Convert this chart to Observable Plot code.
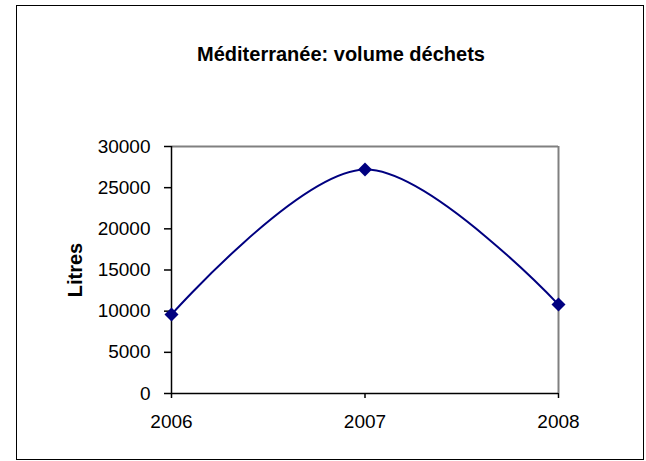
<!DOCTYPE html>
<html><head><meta charset="utf-8">
<script src="https://cdn.jsdelivr.net/npm/d3@7"></script>
<script src="https://cdn.jsdelivr.net/npm/@observablehq/plot@0.6"></script>
<style>
body{margin:0;background:#fff;}
#wrap{position:relative;width:646px;height:461px;}
#frame{position:absolute;left:16px;top:5px;width:628px;height:455px;border:1.5px solid #000;box-sizing:border-box;pointer-events:none;}
</style></head><body>
<div id="wrap"><div id="frame"></div></div>
<script>
const years = [2006, 2007, 2008];
const litres = [9600, 27200, 10800];
const yTicks = [0, 5000, 10000, 15000, 20000, 25000, 30000];
const title = "Méditerranée: volume déchets";
const yLabel = "Litres";

const data = years.map((y, i) => ({year: y, value: litres[i]}));
const font = "'Liberation Sans', Arial, Helvetica, sans-serif";

const chart = Plot.plot({
  width: 646, height: 461,
  marginLeft: 171, marginRight: 88, marginTop: 146, marginBottom: 68,
  style: {fontFamily: font, fontSize: "19px", color: "#000", background: "transparent", overflow: "visible"},
  x: {domain: [2006, 2008], axis: null},
  y: {domain: [0, 30000], axis: null},
  marks: [
    Plot.ruleY([30000], {stroke: "#808080", strokeWidth: 2}),
    Plot.ruleX([2008], {stroke: "#808080", strokeWidth: 2}),
    Plot.axisY({ticks: yTicks, tickFormat: "d", label: null, tickSize: 7, tickPadding: 14, fontSize: 19, strokeWidth: 1.5, strokeOpacity: 1}),
    Plot.axisX({ticks: years, tickFormat: "d", label: null, tickSize: 5, tickPadding: 16, fontSize: 19, strokeWidth: 1.5, strokeOpacity: 1}),
    Plot.ruleX([2006], {stroke: "#000", strokeWidth: 1.5}),
    Plot.ruleY([0], {stroke: "#000", strokeWidth: 1.5}),
    Plot.line(data, {x: "year", y: "value", curve: "catmull-rom", stroke: "#000080", strokeWidth: 2}),
    Plot.dot(data, {x: "year", y: "value", symbol: "diamond2", r: 6.3, fill: "#000080", stroke: "none"}),
    Plot.text([title], {frameAnchor: "top", dx: -24, dy: -86, lineAnchor: "bottom", textAnchor: "middle", fontSize: 20, fontWeight: "bold", fill: "#000"}),
    Plot.text([yLabel], {frameAnchor: "left", dx: -96, rotate: -90, textAnchor: "middle", lineAnchor: "middle", fontSize: 20, fontWeight: "bold", fill: "#000"})
  ]
});
document.getElementById("wrap").prepend(chart);
</script>
</body></html>
